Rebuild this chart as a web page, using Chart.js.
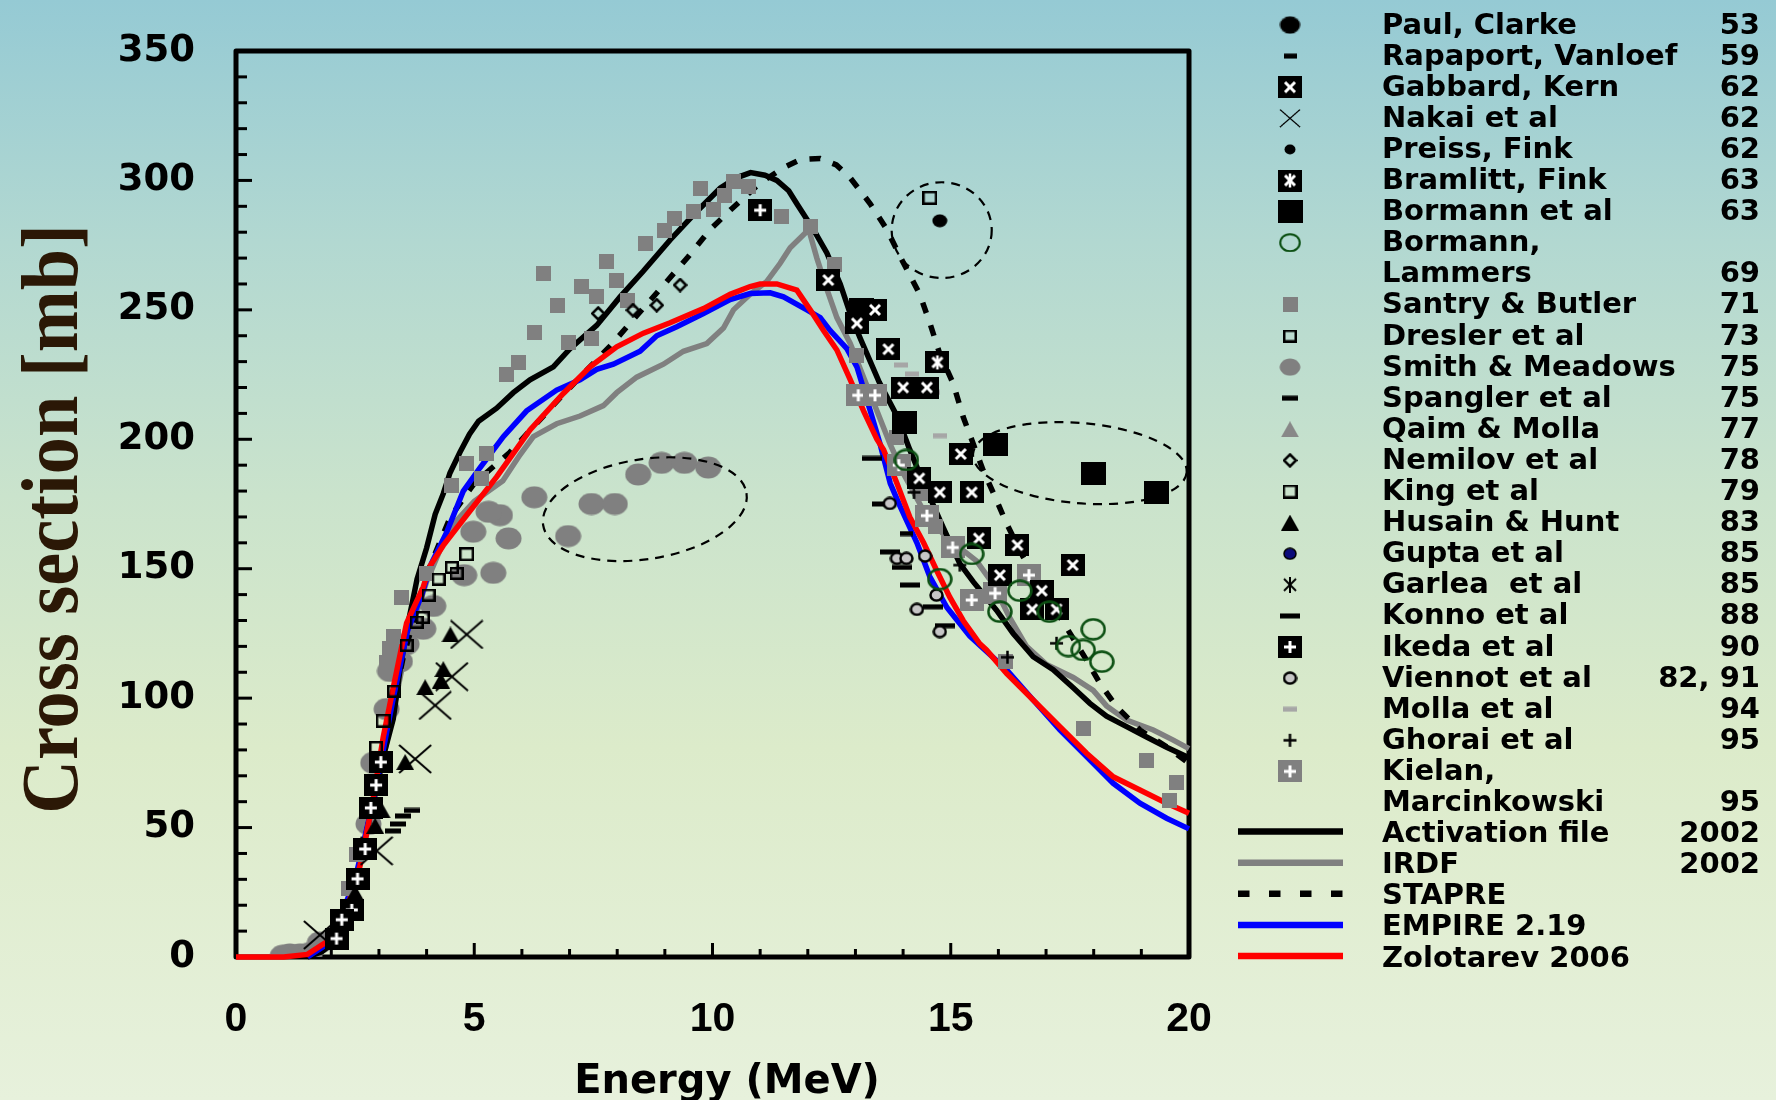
<!DOCTYPE html>
<html>
<head>
<meta charset="utf-8">
<title>Cross section vs energy</title>
<script src="https://cdn.jsdelivr.net/npm/chart.js@4.4.1/dist/chart.umd.min.js"></script>
<style>
  html, body { margin: 0; padding: 0; }
  body {
    width: 1776px; height: 1100px; overflow: hidden;
    background: linear-gradient(to bottom, #95cad4 0%, #b2d8d1 22%, #cae3cc 45%, #dcebca 68%, #e7f1dc 100%);
  }
  #wrap { position: relative; width: 1776px; height: 1100px; }
</style>
</head>
<body>
<div id="wrap"><canvas id="xsChart" width="1776" height="1100"></canvas></div>
<script>
// Evaluations (energy MeV, cross section mb)
const activationFile = [[1.5,0],[1.8,2],[2.0,5],[2.3,15],[2.5,28],[2.7,45],[2.9,62],[3.1,78],[3.3,92],[3.45,112],[3.6,128],[3.69,136],[3.8,146],[4.0,158],[4.18,171],[4.35,179],[4.49,187],[4.7,195],[4.9,202],[5.09,207],[5.47,212],[5.82,218],[6.17,223],[6.66,228],[7.01,235],[7.57,244],[8.06,255],[8.55,265],[9.11,277],[9.67,288],[10.16,297],[10.5,301],[10.8,303],[11.1,302],[11.35,300],[11.6,296],[11.77,291],[12.12,281],[12.4,272],[12.68,260],[12.9,248],[13.1,239],[13.5,222],[13.87,209],[14.14,196],[14.43,183],[14.84,166],[15.19,152],[15.47,145],[15.96,134],[16.31,125],[16.73,116],[17.15,111],[17.57,104],[17.92,98],[18.27,93],[18.69,89],[19.11,85],[19.53,81],[20,77]];
const irdf = [[1.5,0],[2.0,5],[2.5,28],[2.9,60],[3.3,95],[3.6,122],[4.0,145],[4.3,158],[4.6,168],[5.0,176],[5.3,180],[5.6,184],[5.96,194],[6.24,201],[6.73,206],[7.22,209],[7.71,213],[7.99,218],[8.41,224],[8.97,229],[9.39,234],[9.88,237],[10.23,243],[10.44,250],[10.79,256],[11.14,261],[11.42,268],[11.63,274],[11.91,279],[12.02,281],[12.19,270],[12.4,258],[12.61,247],[12.89,237],[13.17,224],[13.45,211],[13.73,198],[14.0,187],[14.5,170],[14.92,162],[15.54,153],[15.89,144],[16.24,131],[16.59,120],[17.01,113],[17.57,108],[17.99,103],[18.27,97],[18.69,91.5],[19.25,87.7],[19.67,83.8],[20,80.5]];
const stapre = [[1.5,0],[2.0,5],[2.5,28],[3.0,70],[3.5,115],[4.0,148],[4.5,170],[5.0,183],[5.75,195],[6.8,216],[7.85,236],[8.9,258],[9.49,270.5],[9.95,281],[10.4,289],[11.0,299],[11.5,305],[11.84,308],[12.26,308.5],[12.6,306],[12.89,301],[13.31,291],[13.66,281],[13.94,270.5],[14.35,256],[14.56,245],[14.77,233],[15.05,221.6],[15.26,208.7],[15.68,188],[15.96,176.5],[16.17,167.5],[16.52,154.6],[16.87,144.3],[17.29,131.4],[17.85,114.7],[18.13,105.7],[18.48,96.7],[18.97,87.7],[19.53,81.2],[20,74.8]];
const empire = [[1.5,0],[2.0,6],[2.5,30],[2.9,62],[3.3,100],[3.6,126],[3.9,140],[4.1,152],[4.42,164],[4.77,180],[5.12,189],[5.61,201],[6.1,211],[6.73,219],[7.22,223],[7.57,227],[7.92,229],[8.48,234],[8.83,240],[9.25,243.5],[9.81,248.6],[10.37,254],[10.79,256.3],[11.21,256.6],[11.49,255],[11.98,250],[12.26,247],[12.47,242],[12.82,235],[13.03,228],[13.31,211],[13.52,198],[13.73,183],[13.94,174],[14.29,160],[14.56,147],[14.92,135],[15.4,124],[16.17,111],[16.73,99.3],[17.29,87.7],[17.85,77.4],[18.41,67.1],[18.97,59.4],[19.53,53.6],[20,49.5]];
const zolotarev = [[0,0],[1.0,0],[1.5,1],[2.0,7],[2.3,17],[2.6,35],[2.85,58],[3.09,85],[3.3,104],[3.58,129],[3.93,143],[4.07,151],[4.35,159],[4.77,169],[5.47,185.5],[6.17,203.6],[6.87,217.7],[7.43,228],[7.99,235.7],[8.55,241],[9.11,245],[9.81,250.5],[10.37,256],[10.79,259],[11.0,260],[11.35,260],[11.77,257.6],[12.05,250],[12.33,242],[12.61,234.5],[12.89,223],[13.17,211],[13.45,200],[13.59,196],[13.87,183],[14.14,170],[14.43,160],[14.7,149.5],[14.98,139],[15.26,130],[15.61,121],[15.75,118.6],[16.17,109.6],[16.73,99.3],[17.29,89],[17.85,78.7],[18.41,69.6],[18.97,64.5],[19.53,59.4],[20,55.5]];

// Measurements
const paulClarke = [[14.77,284.4]];
const rapaport = [[14.07,163.6]];
const gabbardKern = [[12.43,261.5],[13.41,250],[13.03,244.8],[13.69,234.8],[14.0,220],[14.5,220],[15.21,194.3],[14.34,184.9],[14.77,179.5],[15.44,179.5],[15.59,161.7],[16.4,159.1],[17.56,151.4],[16.03,147.5],[16.91,141.5],[16.71,134.3],[17.22,134.3]];
const nakai = [[4.84,124.6],[4.53,108.3],[4.18,97.2],[3.76,76.5],[2.95,41],[1.76,8.5]];
const preissFink = [];
const bramlittFink = [[14.72,229.7]];
const bormann = [[13.13,250],[14.02,206.5],[15.93,198.1],[18.0,186.6],[19.31,179.5]];
const bormannLammers = [[14.07,192],[15.44,155.7],[14.77,146],[16.45,141.5],[16.03,133.4],[17.07,133.4],[17.99,126.6],[17.47,120.1],[17.78,118.6],[18.17,114.1]];
const santryButler = [[9.75,296.9],[10.44,299.5],[10.75,297.5],[10.26,294.3],[10.02,288.8],[9.6,287.9],[9.21,285.3],[9.0,280.8],[8.6,275.7],[7.78,268.6],[6.45,264.1],[7.25,258.9],[7.99,261.5],[7.57,255],[6.75,251.8],[8.22,253.8],[6.26,241.1],[7.46,239],[6.97,237.4],[5.92,229.5],[5.67,225.2],[11.45,285.9],[12.05,282.3],[12.57,267.7],[13.03,232.5],[13.87,200.7],[14.43,179.1],[14.67,166.2],[4.84,190.7],[5.26,194.5],[5.16,184.9],[4.53,182.3],[4.0,148.2],[3.48,138.9],[3.3,123.8],[3.22,119.3],[3.16,113.6],[2.53,39.5],[2.36,26.3],[17.78,88.3],[19.1,76.1],[19.74,67.3],[19.59,60.4],[16.14,114.1]];
const dresler = [[4.53,150.5],[4.63,148.2],[4.25,146],[4.04,139.8],[3.92,131.2],[3.79,129.4],[3.58,120.4],[3.32,102.7],[2.94,81]];
const smithMeadows = [[8.44,186.4],[8.93,190.9],[9.41,190.9],[9.91,189.1],[7.46,175],[7.95,175],[6.97,162.6],[6.26,177.6],[5.72,161.7],[5.4,148.4],[5.54,170.7],[5.3,172],[4.98,164.3],[4.79,147.5],[4.14,135.6],[3.93,126.8],[3.58,120.9],[3.44,114.2],[3.23,110.5],[3.16,95.8],[2.88,75],[2.78,51.4],[0.98,0.5],[1.13,1],[1.34,1],[1.55,1.5],[1.76,5.6]];
const spangler = [[3.69,56.6],[3.5,54.5],[3.4,51.4],[3.3,48.7]];
const qaimMolla = [];
const nemilov = [[7.6,248.6],[8.33,249.9],[8.83,251.8],[9.32,259.6]];
const king = [[4.84,155.6],[3.09,91.3],[14.56,293.3]];
const husainHunt = [[4.5,124.6],[4.35,111.2],[4.3,106.8],[3.97,104.2],[3.55,75.3],[3.06,56.6],[2.92,50.7],[2.5,24.8]];
const gupta = [];
const garlea = [];
const konno = [[13.34,192.6],[13.55,175],[13.72,156.5],[13.97,150.5],[14.14,143.7],[14.63,135.3],[14.88,128]];
const ikeda = [[3.04,75.3],[2.94,66.4],[2.83,57.6],[2.71,41.7],[2.55,30.2],[2.43,18.2],[2.22,14.4],[2.11,7.1],[11.0,288.5]];
const viennot = [[13.72,175.2],[13.87,154],[14.07,154],[14.46,154.9],[14.7,139.8],[14.29,134.3],[14.77,125.7]];
const molla = [[13.96,228.7],[14.18,225.2],[14.62,218.1],[14.77,201.4]];
const ghorai = [[14.23,179.5],[15.19,151.4],[17.22,121.2],[16.19,115.8]];
const kielan = [[13.06,217],[13.41,217],[13.91,190],[14.5,170.5],[15.04,158.2],[16.64,147.5],[15.93,140.5],[15.44,137.9]];

// Dashed highlight ellipses: [centre E, centre mb, half-width MeV, half-height mb, tilt deg]
const highlightEllipses = [[8.58,173,2.16,19.3,-9],[14.81,280.8,1.05,18.5,0],[17.71,190.8,2.25,15.5,5]];

// Legend text
const legendNames = ['Paul, Clarke','Rapaport, Vanloef','Gabbard, Kern','Nakai et al','Preiss, Fink','Bramlitt, Fink','Bormann et al','Bormann,\nLammers','Santry & Butler','Dresler et al','Smith & Meadows','Spangler et al','Qaim & Molla','Nemilov et al','King et al','Husain & Hunt','Gupta et al','Garlea  et al','Konno et al','Ikeda et al','Viennot et al','Molla et al','Ghorai et al','Kielan,\nMarcinkowski','Activation file','IRDF','STAPRE','EMPIRE 2.19','Zolotarev 2006'];
const legendYears = ['53','59','62','62','62','63','63','69','71','73','75','75','77','78','79','83','85','85','88','90','82, 91','94','95','95','2002','2002','','',''];

// ---- marker glyphs ----
const MARKER_SIZE = {
    dot: [16, 14], dashS: [13, 6], boxX: [24, 22], cross: [34, 30], smallDot: [12, 11],
    boxStar: [24, 22], bigBox: [25, 23], greenRing: [26, 23], graySquare: [15, 15],
    openSquare: [14, 13], grayBlob: [27, 23], dashM: [16, 6], grayTriangle: [18, 16],
    diamond: [15, 15], openSquareK: [15, 14], triangle: [18, 16], navyDot: [14, 13],
    asterisk: [16, 16], dashL: [20, 6], boxPlus: [24, 22], ringGray: [15, 14],
    grayDash: [14, 6], plus: [15, 15], grayBoxPlus: [24, 22]
};

function makeMarker(kind) {
    const [w, h] = MARKER_SIZE[kind];
    const c = document.createElement('canvas');
    c.width = w; c.height = h;
    const g = c.getContext('2d');
    const line = (x1, y1, x2, y2) => { g.beginPath(); g.moveTo(x1, y1); g.lineTo(x2, y2); g.stroke(); };
    const oval = (rx, ry) => { g.beginPath(); g.ellipse(w / 2, h / 2, rx, ry, 0, 0, Math.PI * 2); };

    switch (kind) {
        case 'dot': case 'smallDot':
            g.fillStyle = '#000'; oval(w / 2 - 0.5, h / 2 - 0.5); g.fill(); break;
        case 'dashS': case 'dashM': case 'dashL':
            g.fillStyle = '#000'; g.fillRect(0, 0.5, w, 5); break;
        case 'grayDash':
            g.fillStyle = '#a6a6a6'; g.fillRect(0, 0.5, w, 5); break;
        case 'bigBox':
            g.fillStyle = '#000'; g.fillRect(0, 0, w, h); break;
        case 'graySquare':
            g.fillStyle = '#808080'; g.fillRect(0, 0, w, h); break;
        case 'boxX': case 'boxStar': case 'boxPlus': case 'grayBoxPlus':
            g.fillStyle = kind === 'grayBoxPlus' ? '#808080' : '#000';
            g.fillRect(0, 0, w, h);
            g.strokeStyle = '#fff'; g.lineWidth = 3;
            if (kind === 'boxX' || kind === 'boxStar') { line(7, 6, 17, 16); line(17, 6, 7, 16); }
            if (kind === 'boxStar') { g.lineWidth = 2.5; line(12, 4, 12, 18); }
            if (kind === 'boxPlus' || kind === 'grayBoxPlus') { line(12, 5, 12, 17); line(6, 11, 18, 11); }
            break;
        case 'cross':
            g.strokeStyle = '#000'; g.lineWidth = 2; line(1, 1, w - 1, h - 1); line(w - 1, 1, 1, h - 1); break;
        case 'greenRing':
            g.strokeStyle = '#0b4f12'; g.lineWidth = 2.5; oval(w / 2 - 1.5, h / 2 - 1.5); g.stroke(); break;
        case 'openSquare': case 'openSquareK':
            g.strokeStyle = '#000'; g.lineWidth = 2.5; g.strokeRect(1.25, 1.25, w - 2.5, h - 2.5); break;
        case 'grayBlob':
            g.fillStyle = '#808080'; oval(w / 2 - 0.5, h / 2 - 0.5); g.fill(); break;
        case 'grayTriangle': case 'triangle':
            g.fillStyle = kind === 'triangle' ? '#000' : '#888';
            g.beginPath(); g.moveTo(w / 2, 0); g.lineTo(w, h); g.lineTo(0, h); g.closePath(); g.fill(); break;
        case 'diamond':
            g.strokeStyle = '#000'; g.lineWidth = 2.5;
            g.beginPath(); g.moveTo(7.5, 1.5); g.lineTo(13.5, 7.5); g.lineTo(7.5, 13.5); g.lineTo(1.5, 7.5); g.closePath(); g.stroke(); break;
        case 'navyDot':
            g.fillStyle = '#0b0b7a'; g.strokeStyle = '#000'; g.lineWidth = 1.5; oval(6, 5.5); g.fill(); g.stroke(); break;
        case 'asterisk':
            g.strokeStyle = '#000'; g.lineWidth = 2; line(2, 2, 14, 14); line(14, 2, 2, 14); line(8, 0, 8, 16); break;
        case 'ringGray':
            g.fillStyle = '#c6c6c6'; g.strokeStyle = '#000'; g.lineWidth = 2.5; oval(6, 5.5); g.fill(); g.stroke(); break;
        case 'plus':
            g.strokeStyle = '#000'; g.lineWidth = 2.5; line(7.5, 1, 7.5, 14); line(1, 7.5, 14, 7.5); break;
    }
    return c;
}

const markers = {};
Object.keys(MARKER_SIZE).forEach(k => { markers[k] = makeMarker(k); });

const toPoints = pairs => pairs.map(([x, y]) => ({ x, y }));

// measured series, drawn as symbols (lower order = drawn on top)
const measuredSeries = [
    { label: 'Paul, Clarke', data: paulClarke, marker: 'dot', order: 1 },
    { label: 'Rapaport, Vanloef', data: rapaport, marker: 'dashS', order: 4 },
    { label: 'Gabbard, Kern', data: gabbardKern, marker: 'boxX', order: 2 },
    { label: 'Nakai et al', data: nakai, marker: 'cross', order: 4 },
    { label: 'Preiss, Fink', data: preissFink, marker: 'smallDot', order: 4 },
    { label: 'Bramlitt, Fink', data: bramlittFink, marker: 'boxStar', order: 2 },
    { label: 'Bormann et al', data: bormann, marker: 'bigBox', order: 3 },
    { label: 'Bormann, Lammers', data: bormannLammers, marker: 'greenRing', order: 1 },
    { label: 'Santry & Butler', data: santryButler, marker: 'graySquare', order: 6 },
    { label: 'Dresler et al', data: dresler, marker: 'openSquare', order: 4 },
    { label: 'Smith & Meadows', data: smithMeadows, marker: 'grayBlob', order: 40 },
    { label: 'Spangler et al', data: spangler, marker: 'dashM', order: 4 },
    { label: 'Qaim & Molla', data: qaimMolla, marker: 'grayTriangle', order: 4 },
    { label: 'Nemilov et al', data: nemilov, marker: 'diamond', order: 4 },
    { label: 'King et al', data: king, marker: 'openSquareK', order: 4 },
    { label: 'Husain & Hunt', data: husainHunt, marker: 'triangle', order: 4 },
    { label: 'Gupta et al', data: gupta, marker: 'navyDot', order: 4 },
    { label: 'Garlea et al', data: garlea, marker: 'asterisk', order: 4 },
    { label: 'Konno et al', data: konno, marker: 'dashL', order: 4 },
    { label: 'Ikeda et al', data: ikeda, marker: 'boxPlus', order: 2 },
    { label: 'Viennot et al', data: viennot, marker: 'ringGray', order: 3 },
    { label: 'Molla et al', data: molla, marker: 'grayDash', order: 4 },
    { label: 'Ghorai et al', data: ghorai, marker: 'plus', order: 1 },
    { label: 'Kielan, Marcinkowski', data: kielan, marker: 'grayBoxPlus', order: 3 }
];

const curveSeries = [
    { label: 'Activation file', data: activationFile, color: '#000000', dash: [], order: 23 },
    { label: 'IRDF', data: irdf, color: '#808080', dash: [], order: 24 },
    { label: 'STAPRE', data: stapre, color: '#000000', dash: [11, 13], order: 22 },
    { label: 'EMPIRE 2.19', data: empire, color: '#0000ff', dash: [], order: 21 },
    { label: 'Zolotarev 2006', data: zolotarev, color: '#ff0000', dash: [], order: 20 }
];

const datasets = [
    ...curveSeries.map(s => ({
        label: s.label,
        data: toPoints(s.data),
        showLine: true,
        borderColor: s.color,
        borderWidth: 5.5,
        borderDash: s.dash,
        pointRadius: 0,
        tension: 0,
        fill: false,
        clip: false,
        order: s.order
    })),
    ...measuredSeries.map(s => ({
        label: s.label,
        data: toPoints(s.data),
        showLine: false,
        pointStyle: markers[s.marker],
        pointRadius: 12,
        order: s.order
    }))
];

// ---- drawing helpers (frame, titles, ellipses, legend) ----
const decorPlugin = {
    id: 'decor',
    beforeDatasetsDraw(chart) {
        const { ctx, chartArea: a, scales: { x, y } } = chart;
        ctx.save();
        ctx.strokeStyle = '#000';
        ctx.lineWidth = 5;
        ctx.lineJoin = 'round';
        ctx.strokeRect(a.left, a.top, a.right - a.left, a.bottom - a.top);

        ctx.lineWidth = 3;
        for (let e = 1; e < 20; e++) {
            const px = x.getPixelForValue(e);
            const len = e % 5 === 0 ? 14 : 8;
            ctx.beginPath(); ctx.moveTo(px, a.bottom); ctx.lineTo(px, a.bottom - len); ctx.stroke();
        }
        for (let v = 10; v < 350; v += 10) {
            const py = y.getPixelForValue(v);
            const len = v % 50 === 0 ? 16 : 11;
            ctx.beginPath(); ctx.moveTo(a.left, py); ctx.lineTo(a.left + len, py); ctx.stroke();
        }
        ctx.restore();
    },
    afterDatasetsDraw(chart) {
        const { ctx, scales: { x, y } } = chart;
        ctx.save();
        ctx.strokeStyle = '#000';
        ctx.lineWidth = 2.2;
        ctx.setLineDash([9, 7]);
        highlightEllipses.forEach(([ce, cs, re, rs, tilt]) => {
            const cx = x.getPixelForValue(ce), cy = y.getPixelForValue(cs);
            const rx = x.getPixelForValue(ce + re) - cx;
            const ry = cy - y.getPixelForValue(cs + rs);
            ctx.beginPath();
            ctx.ellipse(cx, cy, rx, ry, tilt * Math.PI / 180, 0, Math.PI * 2);
            ctx.stroke();
        });
        ctx.restore();
    },
    afterDraw(chart) {
        const ctx = chart.ctx;

        // y axis title, condensed serif
        ctx.save();
        ctx.translate(77, 519);
        ctx.rotate(-Math.PI / 2);
        ctx.scale(0.93, 1);
        ctx.font = 'bold 80px "Liberation Serif", serif';
        ctx.fillStyle = '#2b1806';
        ctx.textAlign = 'center';
        ctx.textBaseline = 'alphabetic';
        ctx.fillText('Cross section [mb]', 0, 0);
        ctx.restore();

        // x axis title
        ctx.save();
        ctx.font = 'bold 40px "DejaVu Sans", sans-serif';
        ctx.fillStyle = '#000';
        ctx.textAlign = 'center';
        ctx.fillText('Energy (MeV)', 727, 1093);
        ctx.restore();

        drawLegend(ctx);
    }
};

function drawLegend(ctx) {
    const rowY = i => 23 + i * 31.1;
    const legendScale = { cross: 0.62, dot: 1.35, grayBlob: 0.78, greenRing: 0.85 };
    let row = 0;
    ctx.save();
    ctx.font = 'bold 29px "DejaVu Sans", sans-serif';
    ctx.fillStyle = '#000';
    ctx.textBaseline = 'alphabetic';

    legendNames.forEach((name, i) => {
        const lines = name.split('\n');
        const y0 = rowY(row);
        if (i < measuredSeries.length) {
            const kind = measuredSeries[i].marker;
            const img = markers[kind];
            const k = legendScale[kind] || 1;
            const w = img.width * k, h = img.height * k;
            ctx.drawImage(img, 1290 - w / 2, y0 + 2 - h / 2, w, h);
        } else {
            const c = curveSeries[i - measuredSeries.length];
            ctx.save();
            ctx.strokeStyle = c.color;
            ctx.lineWidth = 6.5;
            ctx.setLineDash(c.dash.length ? [11.5, 19.5] : []);
            ctx.beginPath(); ctx.moveTo(1238, y0); ctx.lineTo(1343, y0); ctx.stroke();
            ctx.restore();
        }
        lines.forEach((t, j) => {
            ctx.textAlign = 'left';
            ctx.fillText(t, 1382, rowY(row + j) + 10.5);
        });
        const last = row + lines.length - 1;
        if (legendYears[i]) {
            ctx.textAlign = 'right';
            ctx.fillText(legendYears[i], 1760, rowY(last) + 10.5);
        }
        row += lines.length;
    });
    ctx.restore();
}

const ctx = document.getElementById('xsChart').getContext('2d');
new Chart(ctx, {
    type: 'scatter',
    data: { datasets },
    options: {
        responsive: false,
        devicePixelRatio: 1,
        animation: false,
        events: [],
        layout: { autoPadding: false, padding: { left: 0, top: 51, right: 587, bottom: 0 } },
        plugins: {
            legend: { display: false },
            tooltip: { enabled: false }
        },
        scales: {
            x: {
                type: 'linear',
                min: 0,
                max: 20,
                grid: { display: false, drawTicks: false },
                border: { display: false },
                ticks: {
                    stepSize: 5,
                    maxRotation: 0,
                    padding: 38,
                    color: '#000',
                    font: { family: '"Liberation Sans", Arial, sans-serif', size: 41, weight: 'bold' }
                },
                afterFit: scale => {
                    scale.height = 143;
                    scale.paddingLeft = 0;
                    scale.paddingRight = 0;
                }
            },
            y: {
                type: 'linear',
                min: 0,
                max: 350,
                grid: { display: false, drawTicks: false },
                border: { display: false },
                ticks: {
                    stepSize: 50,
                    padding: 41,
                    color: '#000',
                    font: { family: '"DejaVu Sans", sans-serif', size: 37, weight: 'bold' }
                },
                afterFit: scale => {
                    scale.width = 236;
                    scale.paddingTop = 0;
                    scale.paddingBottom = 0;
                }
            }
        }
    },
    plugins: [decorPlugin]
});
</script>
</body>
</html>
